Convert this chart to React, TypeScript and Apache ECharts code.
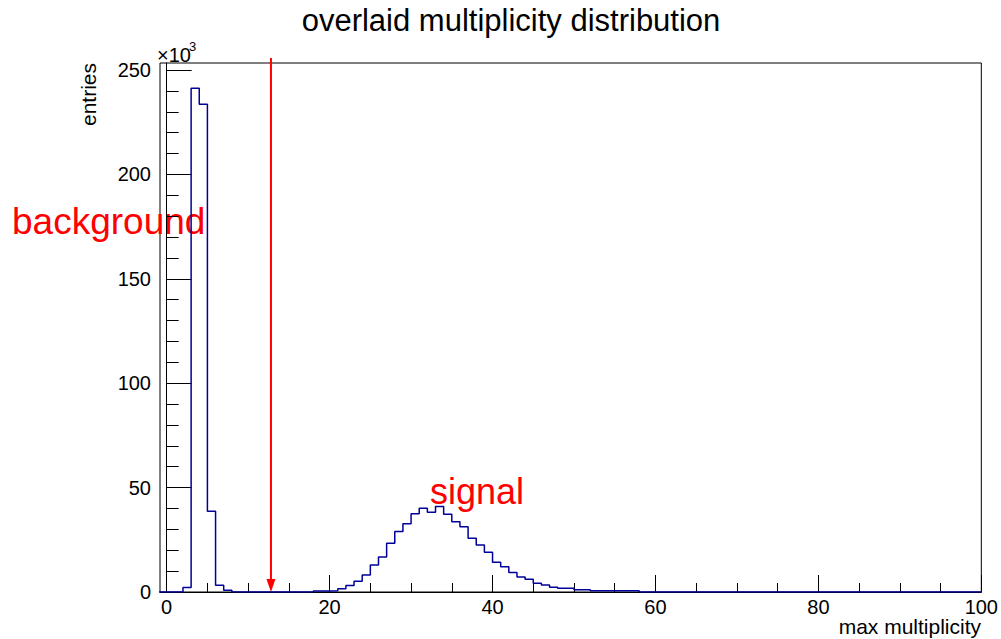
import React, { useEffect, useRef } from "react";
import * as echarts from "echarts";

// Histogram: bins of width 1 starting at low edge -1
const binLowEdge = -1;
const binWidth = 1;
const counts: number[] = [
  0, 0, 0, 2200, 241300, 233600, 38700, 3200, 800, 0, // -1 .. 8
  0, 0, 0, 0, 0, 0, 0, 0, 0, 500, // 9 .. 18
  500, 600, 1500, 3100, 5100, 8100, 12900, 16800, 23300, 29000, // 19 .. 28
  32700, 37500, 40100, 38200, 40900, 37200, 33700, 31300, 25700, 22500, // 29 .. 38
  19000, 14300, 12100, 9300, 7200, 6100, 4200, 3400, 2300, 1800, // 39 .. 48
  1800, 1100, 1100, 600, 600, 600, 600, 600, 600, 0, // 49 .. 58
  0, 0, 0, 0, 0, 0, 0, 0, 0, 0, // 59 .. 68
  0, 0, 0, 0, 0, 0, 0, 0, 0, 0, // 69 .. 78
  0, 0, 0, 0, 0, 0, 0, 0, 0, 0, // 79 .. 88
  0, 0, 0, 0, 0, 0, 0, 0, 0, 0, // 89 .. 98
  0, // 99
];

const xMin = -0.82;
const xMax = 100;
const yMax = 253400;
const xTickLabels = [0, 20, 40, 60, 80, 100];
const xMinorTicks = [5, 10, 15, 25, 30, 35, 45, 50, 55, 65, 70, 75, 85, 90, 95];
const yTickLabels = [0, 50000, 100000, 150000, 200000, 250000];
const yMinorTicks = [
  10000, 20000, 30000, 40000, 60000, 70000, 80000, 90000, 110000, 120000, 130000, 140000,
  160000, 170000, 180000, 190000, 210000, 220000, 230000, 240000,
];
const cutValue = 12.8;

const titleText = "overlaid multiplicity distribution";
const xTitle = "max multiplicity";
const yTitle = "entries";
const bgLabel = "background";
const sigLabel = "signal";

const FONT = "'Liberation Sans', Arial, Helvetica, sans-serif";

export default function App() {
  const ref = useRef<HTMLDivElement>(null);
  useEffect(() => {
    if (!ref.current) return;
    const chart = echarts.init(ref.current, undefined, { renderer: "svg" });

    const pts: number[][] = [];
    counts.forEach((c, i) => {
      const lo = binLowEdge + i * binWidth;
      pts.push([lo, c], [lo + binWidth, c]);
    });

    const black = "#000";
    chart.setOption({
      animation: false,
      textStyle: { fontFamily: FONT },
      grid: {
        left: 160,
        right: 19,
        top: 63,
        bottom: 47,
        show: true,
        borderColor: black,
        borderWidth: 1,
        backgroundColor: "transparent",
      },
      xAxis: [
        {
          type: "value",
          min: xMin,
          max: xMax,
          position: "bottom",
          axisLine: { show: true, lineStyle: { color: black, width: 1 } },
          axisTick: {
            show: true,
            inside: true,
            length: 17,
            customValues: xTickLabels,
            lineStyle: { color: black, width: 1 },
          },
          axisLabel: {
            customValues: xTickLabels,
            fontSize: 20,
            lineHeight: 16,
            color: black,
            fontFamily: FONT,
            margin: 7,
          },
          splitLine: { show: false },
        },
        {
          type: "value",
          min: xMin,
          max: xMax,
          position: "bottom",
          axisLine: { show: false },
          axisTick: {
            show: true,
            inside: true,
            length: 9,
            customValues: xMinorTicks,
            lineStyle: { color: black, width: 1 },
          },
          axisLabel: { show: false },
          splitLine: { show: false },
        },
      ],
      yAxis: [
        {
          type: "value",
          min: 0,
          max: yMax,
          position: "left",
          axisLine: { show: true, lineStyle: { color: black, width: 1 } },
          axisTick: {
            show: true,
            inside: true,
            length: 25,
            customValues: yTickLabels,
            lineStyle: { color: black, width: 1 },
          },
          axisLabel: {
            customValues: yTickLabels,
            fontSize: 20,
            color: black,
            fontFamily: FONT,
            margin: 9,
            formatter: (v: number) => String(Math.round(v / 1000)),
          },
          splitLine: { show: false },
        },
        {
          type: "value",
          min: 0,
          max: yMax,
          position: "left",
          axisLine: { show: false },
          axisTick: {
            show: true,
            inside: true,
            length: 12,
            customValues: yMinorTicks,
            lineStyle: { color: black, width: 1 },
          },
          axisLabel: { show: false },
          splitLine: { show: false },
        },
      ],
      series: [
        {
          type: "line",
          xAxisIndex: 0,
          yAxisIndex: 0,
          data: pts,
          symbol: "none",
          clip: true,
          lineStyle: { color: "#000099", width: 1.5 },
        },
      ],
    });

    const [ax, ay0] = chart.convertToPixel({ xAxisIndex: 0, yAxisIndex: 0 }, [cutValue, 0]) as number[];
    const [, ayTop] = chart.convertToPixel({ xAxisIndex: 0, yAxisIndex: 0 }, [cutValue, yMax]) as number[];

    chart.setOption({
      graphic: [
        {
          type: "text",
          x: 511,
          y: 20,
          style: {
            text: titleText,
            fontSize: 31,
            fontFamily: FONT,
            fill: black,
            align: "center",
            verticalAlign: "middle",
          },
        },
        {
          type: "text",
          x: 981,
          y: 626,
          style: {
            text: xTitle,
            fontSize: 21,
            fontFamily: FONT,
            lineHeight: 16,
            fill: black,
            align: "right",
            verticalAlign: "middle",
          },
        },
        {
          type: "text",
          x: 88,
          y: 63,
          rotation: Math.PI / 2,
          style: {
            text: yTitle,
            fontSize: 21,
            fontFamily: FONT,
            fill: black,
            align: "right",
            verticalAlign: "middle",
          },
        },
        {
          type: "text",
          x: 157,
          y: 55,
          style: {
            text: "×10",
            fontSize: 20,
            fontFamily: FONT,
            fill: black,
            align: "left",
            verticalAlign: "middle",
          },
        },
        {
          type: "text",
          x: 189,
          y: 46,
          style: {
            text: "3",
            fontSize: 13,
            fontFamily: FONT,
            fill: black,
            align: "left",
            verticalAlign: "middle",
          },
        },
        {
          type: "text",
          x: 12,
          y: 221,
          style: {
            text: bgLabel,
            fontSize: 37,
            fontFamily: FONT,
            fill: "#ff0000",
            align: "left",
            verticalAlign: "middle",
          },
        },
        {
          type: "text",
          x: 430,
          y: 491,
          style: {
            text: sigLabel,
            fontSize: 36,
            fontFamily: FONT,
            fill: "#ff0000",
            align: "left",
            verticalAlign: "middle",
          },
        },
        {
          type: "line",
          shape: { x1: ax, y1: ayTop - 5, x2: ax, y2: ay0 - 8 },
          style: { stroke: "#ff0000", lineWidth: 2 },
        },
        {
          type: "polygon",
          shape: { points: [[ax - 4.5, ay0 - 13], [ax + 4.5, ay0 - 13], [ax, ay0]] },
          style: { fill: "#ff0000" },
        },
      ],
    });

    return () => chart.dispose();
  }, []);

  return (
    <div
      ref={ref}
      style={{ position: "fixed", left: 0, top: 0, width: 1001, height: 639, background: "#fff" }}
    />
  );
}
